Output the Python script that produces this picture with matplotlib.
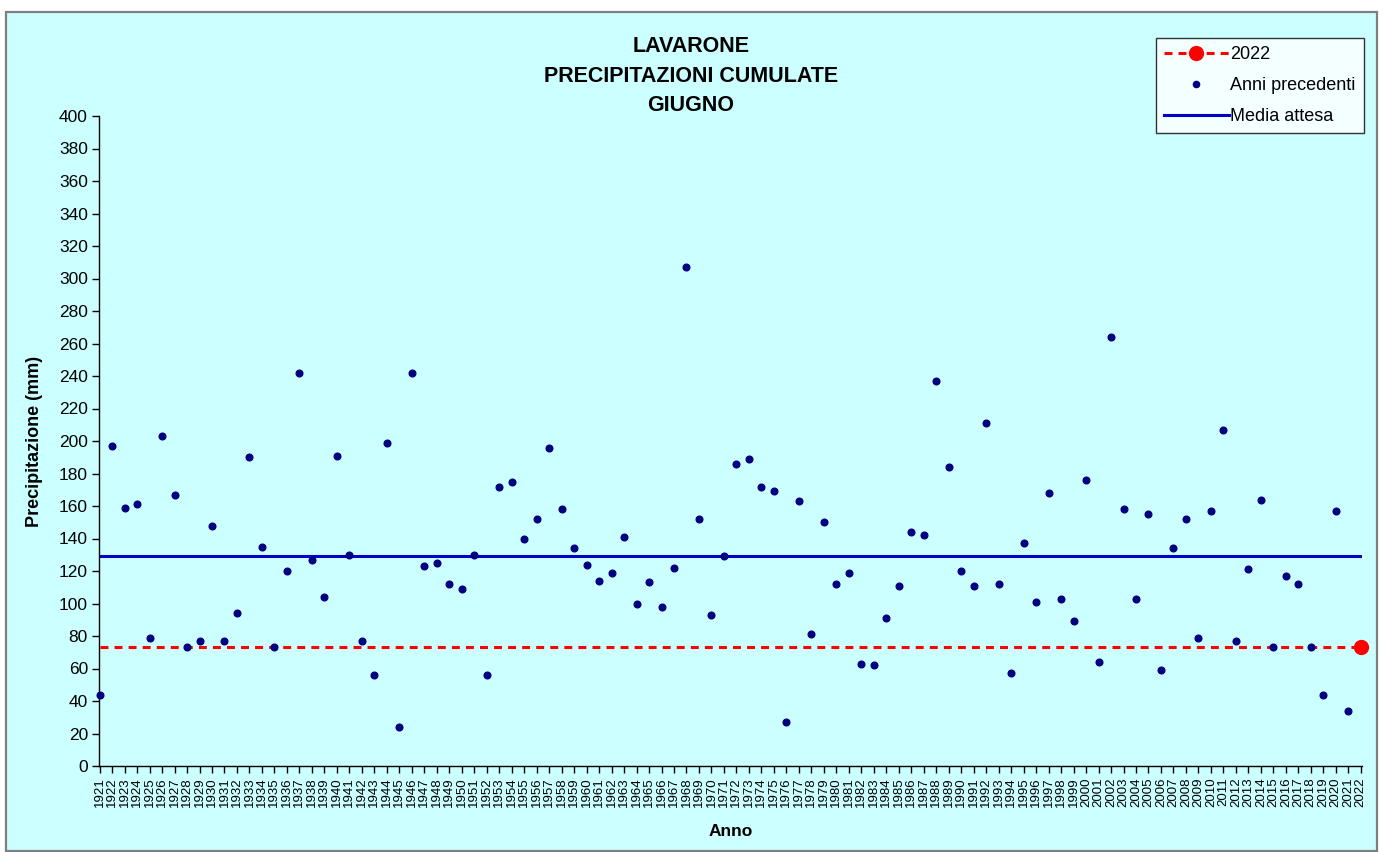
import matplotlib
matplotlib.use("Agg")
import matplotlib.pyplot as plt
from matplotlib.lines import Line2D
from matplotlib.patches import Rectangle

plt.rcParams['font.family'] = ['Liberation Sans', 'DejaVu Sans']

# ---- data ----
years = list(range(1921, 2023))
precip = [
    44, 197, 159, 161, 79, 203, 167, 73, 77, 148,          # 1921-1930
    77, 94, 190, 135, 73, 120, 242, 127, 104, 191,         # 1931-1940
    130, 77, 56, 199, 24, 242, 123, 125, 112, 109,         # 1941-1950
    130, 56, 172, 175, 140, 152, 196, 158, 134, 124,       # 1951-1960
    114, 119, 141, 100, 113, 98, 122, 307, 152, 93,        # 1961-1970
    129, 186, 189, 172, 169, 27, 163, 81, 150, 112,        # 1971-1980
    119, 63, 62, 91, 111, 144, 142, 237, 184, 120,         # 1981-1990
    111, 211, 112, 57, 137, 101, 168, 103, 89, 176,        # 1991-2000
    64, 264, 158, 103, 155, 59, 134, 152, 79, 157,         # 2001-2010
    207, 77, 121, 164, 73, 117, 112, 73, 44, 157,          # 2011-2020
    34,                                                    # 2021
]
value_2022 = 73.3
media_attesa = 129.3
prev_years = years[:-1]
yticks = list(range(0, 401, 20))

title = "LAVARONE\nPRECIPITAZIONI CUMULATE\nGIUGNO"

W, H = 1385, 852
fig = plt.figure(figsize=(W / 100, H / 100), dpi=100, facecolor="white")

# chart-area background with gray frame
bg = Rectangle((6 / W, 1 - 851 / H), (1377 - 6) / W, (851 - 12) / H,
               transform=fig.transFigure, facecolor="#CCFFFF",
               edgecolor="#7f7f7f", linewidth=1.6, zorder=-5)
fig.patches.append(bg)

ax = fig.add_axes([99 / W, 1 - 766 / H, (1362 - 99) / W, (766 - 116) / H])
ax.set_facecolor("none")
ax.set_zorder(2)

red_dash = (0, (2.6, 2.0))

# 2022 line (horizontal at 2022 value) + marker
ax.plot([years[0], years[-1]], [value_2022, value_2022], color="#FF0000",
        linestyle=red_dash, linewidth=2.2, zorder=2)
ax.plot([years[-1]], [value_2022], marker="o", color="#FF0000",
        markersize=10, linestyle="none", zorder=4, clip_on=False)

# media attesa
ax.plot([years[0], years[-1]], [media_attesa, media_attesa],
        color="#0000CC", linewidth=2.2, zorder=2)

# anni precedenti
ax.plot(prev_years, precip, marker="o", linestyle="none",
        color="#000080", markersize=4.8, zorder=3, clip_on=False)

ax.set_xlim(1920.95, 2022.1)
ax.set_ylim(0, 400)
ax.set_yticks(yticks)
ax.set_yticklabels([str(v) for v in yticks], fontsize=12.5)
ax.set_xticks(years)
ax.set_xticklabels([str(y) for y in years], rotation=90, fontsize=9.5)
ax.tick_params(axis="both", direction="out", length=5, width=1, color="black",
               pad=3)
for s in ["top", "right"]:
    ax.spines[s].set_visible(False)
for s in ["left", "bottom"]:
    ax.spines[s].set_color("black")
    ax.spines[s].set_linewidth(1)

fig.text(691 / W, 1 - 76 / H, title, ha="center", va="center",
         fontsize=15.5, fontweight="bold", linespacing=1.55)
fig.text(35 / W, 1 - 441 / H, "Precipitazione (mm)", rotation=90,
         ha="center", va="center", fontsize=13, fontweight="bold")
fig.text(731 / W, 1 - 831 / H, "Anno", ha="center", va="center",
         fontsize=12.5, fontweight="bold")

handles = [
    Line2D([], [], color="#FF0000", linestyle=red_dash, linewidth=2.2,
           marker="o", markersize=10),
    Line2D([], [], color="#000080", linestyle="none", marker="o",
           markersize=4.5),
    Line2D([], [], color="#0000CC", linewidth=2.2),
]
leg = fig.legend(handles, ["2022", "Anni precedenti", "Media attesa"],
                 loc="upper right", bbox_to_anchor=(1364 / W, 1 - 38 / H),
                 bbox_transform=fig.transFigure, fontsize=13,
                 frameon=True, fancybox=False, handlelength=3.6,
                 handletextpad=0.1, borderpad=0.45, labelspacing=0.78,
                 borderaxespad=0)
leg.get_frame().set_edgecolor("black")
leg.get_frame().set_linewidth(1)
leg.get_frame().set_facecolor("white")
leg.set_zorder(5)

fig.savefig("out.png", dpi=100, facecolor="white")
